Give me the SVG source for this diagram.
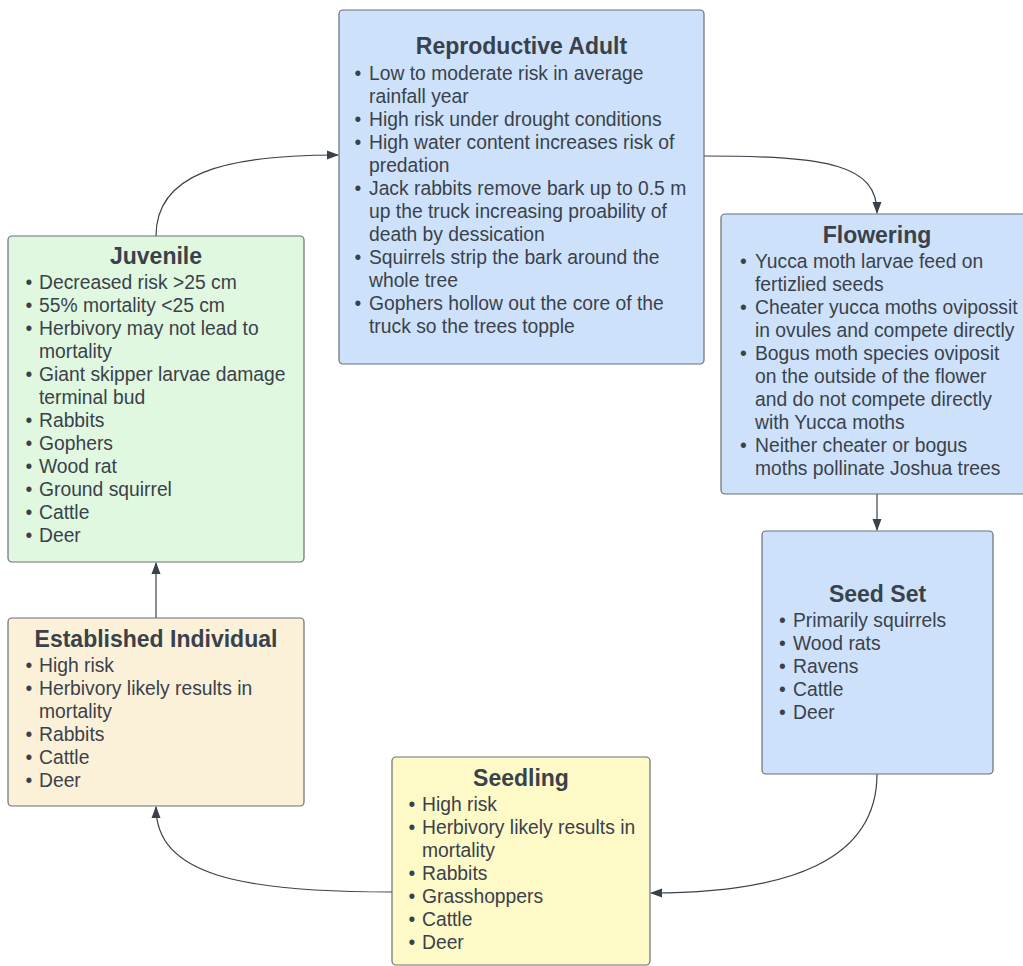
<svg xmlns="http://www.w3.org/2000/svg" width="1023" height="966" viewBox="0 0 1023 966">
<style>
.box{stroke:#6a6e75;stroke-width:1.2}
.blue{fill:#cde2fa}
.green{fill:#e0f8e0}
.tan{fill:#fbf1d9}
.yellow{fill:#fdfac8}
.title{font-family:"Liberation Sans",Arial,sans-serif;font-size:23px;font-weight:bold;fill:#3a414a;text-anchor:middle}
.body{font-family:"Liberation Sans",Arial,sans-serif;font-size:19.3px;fill:#3a414a}
.conn{fill:none;stroke:#3a414a;stroke-width:1.2}
</style>
<defs>
<marker id="arr" viewBox="0 0 12 12" refX="11" refY="6" markerWidth="12" markerHeight="12" markerUnits="userSpaceOnUse" orient="auto">
<path d="M0,1.5 L12,6 L0,10.5 Z" fill="#3a414a"/>
</marker>
</defs>
<rect width="1023" height="966" fill="#ffffff"/>
<g id="connectors">
<path class="conn" d="M156,236 C156,175 220,155 338,155" marker-end="url(#arr)"/>
<path class="conn" d="M704,156 C830,156 877,165 877,213" marker-end="url(#arr)"/>
<path class="conn" d="M877,494 L877,530" marker-end="url(#arr)"/>
<path class="conn" d="M877,774 C877,860 790,893 651,893" marker-end="url(#arr)"/>
<path class="conn" d="M392,892 C240,892 156,875 156,807" marker-end="url(#arr)"/>
<path class="conn" d="M156,618 L156,563" marker-end="url(#arr)"/>
</g>
<g id="reproductive-adult">
<rect class="box blue" x="339" y="10" width="365" height="354" rx="4"/>
<text class="title" x="521.5" y="54">Reproductive Adult</text>
<text class="body">
<tspan x="354.5" y="80">•</tspan><tspan x="369" y="80">Low to moderate risk in average</tspan>
<tspan x="369" y="103">rainfall year</tspan>
<tspan x="354.5" y="126">•</tspan><tspan x="369" y="126">High risk under drought conditions</tspan>
<tspan x="354.5" y="149">•</tspan><tspan x="369" y="149">High water content increases risk of</tspan>
<tspan x="369" y="172">predation</tspan>
<tspan x="354.5" y="195">•</tspan><tspan x="369" y="195">Jack rabbits remove bark up to 0.5 m</tspan>
<tspan x="369" y="218">up the truck increasing proability of</tspan>
<tspan x="369" y="241">death by dessication</tspan>
<tspan x="354.5" y="264">•</tspan><tspan x="369" y="264">Squirrels strip the bark around the</tspan>
<tspan x="369" y="287">whole tree</tspan>
<tspan x="354.5" y="310">•</tspan><tspan x="369" y="310">Gophers hollow out the core of the</tspan>
<tspan x="369" y="333">truck so the trees topple</tspan>
</text>
</g>
<g id="flowering">
<rect class="box blue" x="721" y="214" width="312" height="280" rx="4"/>
<text class="title" x="877" y="243">Flowering</text>
<text class="body">
<tspan x="740" y="268">•</tspan><tspan x="755" y="268">Yucca moth larvae feed on</tspan>
<tspan x="755" y="291">fertizlied seeds</tspan>
<tspan x="740" y="314">•</tspan><tspan x="755" y="314">Cheater yucca moths ovipossit</tspan>
<tspan x="755" y="337">in ovules and compete directly</tspan>
<tspan x="740" y="360">•</tspan><tspan x="755" y="360">Bogus moth species oviposit</tspan>
<tspan x="755" y="383">on the outside of the flower</tspan>
<tspan x="755" y="406">and do not compete directly</tspan>
<tspan x="755" y="429">with Yucca moths</tspan>
<tspan x="740" y="452">•</tspan><tspan x="755" y="452">Neither cheater or bogus</tspan>
<tspan x="755" y="475">moths pollinate Joshua trees</tspan>
</text>
</g>
<g id="seed-set">
<rect class="box blue" x="762" y="531" width="231" height="243" rx="4"/>
<text class="title" x="877.5" y="602">Seed Set</text>
<text class="body">
<tspan x="779" y="627">•</tspan><tspan x="793" y="627">Primarily squirrels</tspan>
<tspan x="779" y="650">•</tspan><tspan x="793" y="650">Wood rats</tspan>
<tspan x="779" y="673">•</tspan><tspan x="793" y="673">Ravens</tspan>
<tspan x="779" y="696">•</tspan><tspan x="793" y="696">Cattle</tspan>
<tspan x="779" y="719">•</tspan><tspan x="793" y="719">Deer</tspan>
</text>
</g>
<g id="seedling">
<rect class="box yellow" x="392" y="757" width="258" height="208" rx="4"/>
<text class="title" x="521" y="786">Seedling</text>
<text class="body">
<tspan x="408.5" y="811">•</tspan><tspan x="422" y="811">High risk</tspan>
<tspan x="408.5" y="834">•</tspan><tspan x="422" y="834">Herbivory likely results in</tspan>
<tspan x="422" y="857">mortality</tspan>
<tspan x="408.5" y="880">•</tspan><tspan x="422" y="880">Rabbits</tspan>
<tspan x="408.5" y="903">•</tspan><tspan x="422" y="903">Grasshoppers</tspan>
<tspan x="408.5" y="926">•</tspan><tspan x="422" y="926">Cattle</tspan>
<tspan x="408.5" y="949">•</tspan><tspan x="422" y="949">Deer</tspan>
</text>
</g>
<g id="established-individual">
<rect class="box tan" x="8" y="618" width="296" height="188" rx="4"/>
<text class="title" x="156" y="647">Established Individual</text>
<text class="body">
<tspan x="25.5" y="672">•</tspan><tspan x="39" y="672">High risk</tspan>
<tspan x="25.5" y="695">•</tspan><tspan x="39" y="695">Herbivory likely results in</tspan>
<tspan x="39" y="718">mortality</tspan>
<tspan x="25.5" y="741">•</tspan><tspan x="39" y="741">Rabbits</tspan>
<tspan x="25.5" y="764">•</tspan><tspan x="39" y="764">Cattle</tspan>
<tspan x="25.5" y="787">•</tspan><tspan x="39" y="787">Deer</tspan>
</text>
</g>
<g id="juvenile">
<rect class="box green" x="8" y="236" width="296" height="326" rx="4"/>
<text class="title" x="156" y="264">Juvenile</text>
<text class="body">
<tspan x="25.5" y="289">•</tspan><tspan x="39" y="289">Decreased risk &gt;25 cm</tspan>
<tspan x="25.5" y="312">•</tspan><tspan x="39" y="312">55% mortality &lt;25 cm</tspan>
<tspan x="25.5" y="335">•</tspan><tspan x="39" y="335">Herbivory may not lead to</tspan>
<tspan x="39" y="358">mortality</tspan>
<tspan x="25.5" y="381">•</tspan><tspan x="39" y="381">Giant skipper larvae damage</tspan>
<tspan x="39" y="404">terminal bud</tspan>
<tspan x="25.5" y="427">•</tspan><tspan x="39" y="427">Rabbits</tspan>
<tspan x="25.5" y="450">•</tspan><tspan x="39" y="450">Gophers</tspan>
<tspan x="25.5" y="473">•</tspan><tspan x="39" y="473">Wood rat</tspan>
<tspan x="25.5" y="496">•</tspan><tspan x="39" y="496">Ground squirrel</tspan>
<tspan x="25.5" y="519">•</tspan><tspan x="39" y="519">Cattle</tspan>
<tspan x="25.5" y="542">•</tspan><tspan x="39" y="542">Deer</tspan>
</text>
</g>
</svg>
